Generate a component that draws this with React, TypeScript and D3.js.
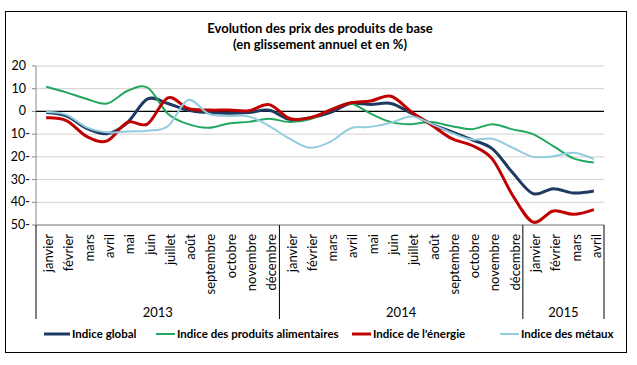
import { useEffect } from "react";
import * as d3 from "d3";

const months = ["janvier", "février", "mars", "avril", "mai", "juin", "juillet", "août", "septembre", "octobre", "novembre", "décembre"];
const years = [
  { label: "2013", count: 12 },
  { label: "2014", count: 12 },
  { label: "2015", count: 4 },
];
const categories = years.flatMap(y => months.slice(0, y.count));

const global = [-0.5, -2, -7.5, -9.8, -5, 5.5, 3.5, 0.5, -0.5, -0.8, -0.5, 0.5, -3.5, -2.8, -0.5, 3.5, 3, 3.5, -0.8, -5.6, -9, -12.5, -16.5, -27, -36.2, -34, -35.9, -35];
const food = [10.9, 8.4, 5.5, 3.5, 9, 10.5, -1, -5.6, -7.2, -5.3, -4.6, -3.2, -4.7, -3.5, 0.8, 3.5, -1, -4.7, -5.6, -4.7, -6.5, -7.8, -5.6, -7.9, -10, -15.3, -20.7, -22.5];
const energy = [-2.8, -4, -11, -13, -4.8, -5.5, 6, 1.3, 0.6, 0.6, 0.3, 3, -3.1, -2.8, 0.6, 3.8, 4.6, 6.7, -0.1, -6, -12, -15, -21, -37, -48.7, -43.8, -45.3, -43.2];
const metals = [-0.3, -1.5, -7, -9.2, -8.8, -8.5, -6.5, 5, -1, -2, -2.2, -6.5, -12, -16, -13.4, -7.5, -6.8, -5, -2.2, -5.5, -9.5, -12.4, -12, -16, -20, -19.7, -18.2, -21];

const yTicks = [20, 10, 0, -10, -20, -30, -40, -50];

const series = [
  { name: "Indice global", values: global, color: "#1F3A60", width: 3 },
  { name: "Indice des produits alimentaires", values: food, color: "#22A85E", width: 2 },
  { name: "Indice de l'énergie", values: energy, color: "#C00000", width: 3 },
  { name: "Indice des métaux", values: metals, color: "#93CDDD", width: 2 },
];

const W = 637, H = 365;
const left = 36, right = 604, top = 66, bottom = 225;
const font = "Lato, 'Open Sans', sans-serif";

export default function App() {
  useEffect(() => { document.body.style.margin = "0"; }, []);

  const x = d3.scaleBand<number>().domain(d3.range(categories.length)).range([left, right]);
  const cx = (i: number) => (x(i) as number) + x.bandwidth() / 2;
  const y = d3.scaleLinear().domain([-50, 20]).range([bottom, top]);
  const line = d3.line<number>().x((_, i) => cx(i)).y(d => y(d)).curve(d3.curveCardinal.tension(0));

  let acc = 0;
  const yearSpans = years.map(yr => {
    const start = acc;
    acc += yr.count;
    return { ...yr, start, end: acc };
  });
  const xAt = (idx: number) => idx >= categories.length ? right : (x(idx) as number);

  const legendX = [44, 156, 352, 500];

  return (
    <svg width={W} height={H} style={{ display: "block", background: "#fff" }} fontFamily={font}>
      <rect x={5.5} y={11.5} width={621} height={341} fill="#fff" stroke="#000" strokeWidth={1} />
      <text x={320} y={33} textAnchor="middle" fontSize={13} fontWeight="bold">Evolution des prix des produits de base</text>
      <text x={320} y={49} textAnchor="middle" fontSize={13} fontWeight="bold">(en glissement annuel et en %)</text>

      {yTicks.map(t => (
        <g key={t}>
          <line x1={left} x2={right} y1={y(t)} y2={y(t)} stroke="#D0D0D0" strokeWidth={1} />
          <line x1={left - 4} x2={left} y1={y(t)} y2={y(t)} stroke="#888" />
          <text x={t < 0 ? 30 : 26} y={y(t) + 4} textAnchor="end" fontSize={12.5}>{t < 0 ? `${-t}-` : t}</text>
        </g>
      ))}
      <line x1={left} x2={left} y1={top} y2={bottom} stroke="#888" />
      <line x1={left} x2={right} y1={y(0)} y2={y(0)} stroke="#000" strokeWidth={1.3} />
      <line x1={left} x2={right} y1={bottom} y2={bottom} stroke="#888" />

      {yearSpans.map(s => (
        <g key={s.label}>
          <line x1={xAt(s.start)} x2={xAt(s.start)} y1={bottom} y2={319} stroke="#000" />
          <text x={(xAt(s.start) + xAt(s.end)) / 2} y={317} textAnchor="middle" fontSize={13}>{s.label}</text>
        </g>
      ))}
      <line x1={right} x2={right} y1={bottom} y2={319} stroke="#000" />

      {categories.map((c, i) => (
        <text key={i} transform={`translate(${cx(i) + 7},${bottom + 9}) rotate(-90)`} textAnchor="end" fontSize={13}>{c}</text>
      ))}

      {series.map(s => (
        <path key={s.name} d={line(s.values) as string} fill="none" stroke={s.color} strokeWidth={s.width} strokeLinejoin="round" />
      ))}

      {series.map((s, k) => (
        <g key={s.name} transform={`translate(${legendX[k]},334)`}>
          <line x1={0} x2={k === 0 ? 26 : 19} y1={0} y2={0} stroke={s.color} strokeWidth={s.width} />
          <text x={k === 0 ? 28 : 21} y={4} fontSize={11.5} fontWeight="bold">{s.name}</text>
        </g>
      ))}
    </svg>
  );
}
